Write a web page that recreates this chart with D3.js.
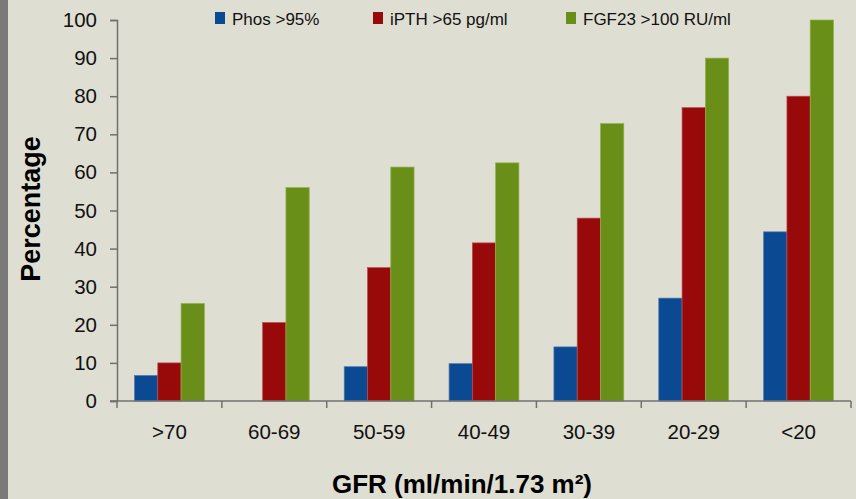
<!DOCTYPE html>
<html>
<head>
<meta charset="utf-8">
<script src="https://cdn.jsdelivr.net/npm/d3@7"></script>
<style>
    body { margin: 0; background: #dfded2; }
    svg { display: block; }
</style>
</head>
<body>
<svg id="chart"></svg>
<script>
// Configuration
const width = 856;
const height = 499;
const margin = {top: 20, right: 5, bottom: 98, left: 117};

// Data
const categories = ['>70', '60-69', '50-59', '40-49', '30-39', '20-29', '<20'];
const seriesNames = ['Phos >95%', 'iPTH >65 pg/ml', 'FGF23 >100 RU/ml'];
const phos = [6.7, 0, 9, 9.8, 14.2, 27, 44.4];
const ipth = [10, 20.6, 35, 41.5, 48, 77, 80];
const fgf23 = [25.6, 56, 61.4, 62.5, 72.8, 90, 100];
const yTicks = [0, 10, 20, 30, 40, 50, 60, 70, 80, 90, 100];

const seriesColors = ['#0b4a93', '#980a0a', '#6a8f19'];
const strokeColors = ['#4d7ab0', '#b85050', '#93b050'];

const series = [phos, ipth, fgf23];

const svg = d3.select("#chart")
    .attr("width", width)
    .attr("height", height);

// background and the grey strip on the left edge
svg.append("rect").attr("width", width).attr("height", height).attr("fill", "#dfded2");
svg.append("rect").attr("width", 8).attr("height", height).attr("fill", "#7a7a7a");

const x = d3.scaleBand()
    .domain(categories)
    .range([margin.left, width - margin.right])
    .padding(0);

const xInner = d3.scaleBand()
    .domain(d3.range(series.length))
    .range([17.5, x.bandwidth() - 17.5])
    .padding(0);

const y = d3.scaleLinear()
    .domain([0, 100])
    .range([height - margin.bottom, margin.top]);

// Bars
const groups = svg.append("g")
    .selectAll("g")
    .data(categories)
    .join("g")
    .attr("transform", d => `translate(${x(d)},0)`);

groups.selectAll("rect")
    .data((d, i) => series.map((s, k) => ({k: k, value: s[i]})).filter(v => v.value > 0))
    .join("rect")
    .attr("x", d => xInner(d.k))
    .attr("y", d => y(d.value))
    .attr("width", xInner.bandwidth())
    .attr("height", d => y(0) - y(d.value))
    .attr("fill", d => seriesColors[d.k])
    .attr("stroke", d => strokeColors[d.k])
    .attr("stroke-width", 0.7);

// Y axis
const yAxis = svg.append("g")
    .attr("transform", `translate(${margin.left},0)`)
    .call(d3.axisLeft(y).tickValues(yTicks).tickSize(7).tickPadding(13));
yAxis.select(".domain").attr("stroke", "#707070").attr("stroke-width", 1.5);
yAxis.selectAll(".tick line").attr("stroke", "#707070").attr("stroke-width", 1.5);
yAxis.selectAll(".tick text")
    .attr("fill", "#111")
    .style("font-family", "'Liberation Sans', Arial, sans-serif")
    .style("font-size", "20.5px");

// X axis (labels at centres, ticks at the band edges)
const xAxis = svg.append("g")
    .attr("transform", `translate(0,${y(0)})`)
    .call(d3.axisBottom(x).tickSize(0).tickPadding(23));
xAxis.select(".domain").remove();
xAxis.selectAll(".tick text")
    .attr("fill", "#111")
    .style("font-family", "'Liberation Sans', Arial, sans-serif")
    .style("font-size", "20.5px");

const edges = categories.map(d => x(d)).concat([x.range()[1]]);
svg.append("line")
    .attr("x1", x.range()[0] - 7).attr("x2", x.range()[1])
    .attr("y1", y(0)).attr("y2", y(0))
    .attr("stroke", "#707070").attr("stroke-width", 1.5);
svg.append("g").selectAll("line")
    .data(edges)
    .join("line")
    .attr("x1", d => d).attr("x2", d => d)
    .attr("y1", y(0)).attr("y2", y(0) + 7)
    .attr("stroke", "#707070").attr("stroke-width", 1.5);

// Axis titles
svg.append("text")
    .attr("transform", "translate(40,209) rotate(-90)")
    .attr("text-anchor", "middle")
    .style("font-family", "'Liberation Sans', Arial, sans-serif")
    .style("font-weight", "bold")
    .style("font-size", "27px")
    .attr("fill", "#000")
    .text("Percentage");

svg.append("text")
    .attr("x", 462)
    .attr("y", 493)
    .attr("text-anchor", "middle")
    .style("font-family", "'Liberation Sans', Arial, sans-serif")
    .style("font-weight", "bold")
    .style("font-size", "26px")
    .attr("fill", "#000")
    .text("GFR (ml/min/1.73 m²)");

// Legend
const legendX = [215, 373, 566];
const legend = svg.append("g")
    .selectAll("g")
    .data(seriesNames)
    .join("g")
    .attr("transform", (d, i) => `translate(${legendX[i]},12)`);
legend.append("rect")
    .attr("width", 10).attr("height", 12)
    .attr("fill", (d, i) => seriesColors[i]);
legend.append("text")
    .attr("x", 17)
    .attr("y", 12.5)
    .style("font-family", "'Liberation Sans', Arial, sans-serif")
    .style("font-size", "17px")
    .attr("fill", "#111")
    .text(d => d);
</script>
</body>
</html>
